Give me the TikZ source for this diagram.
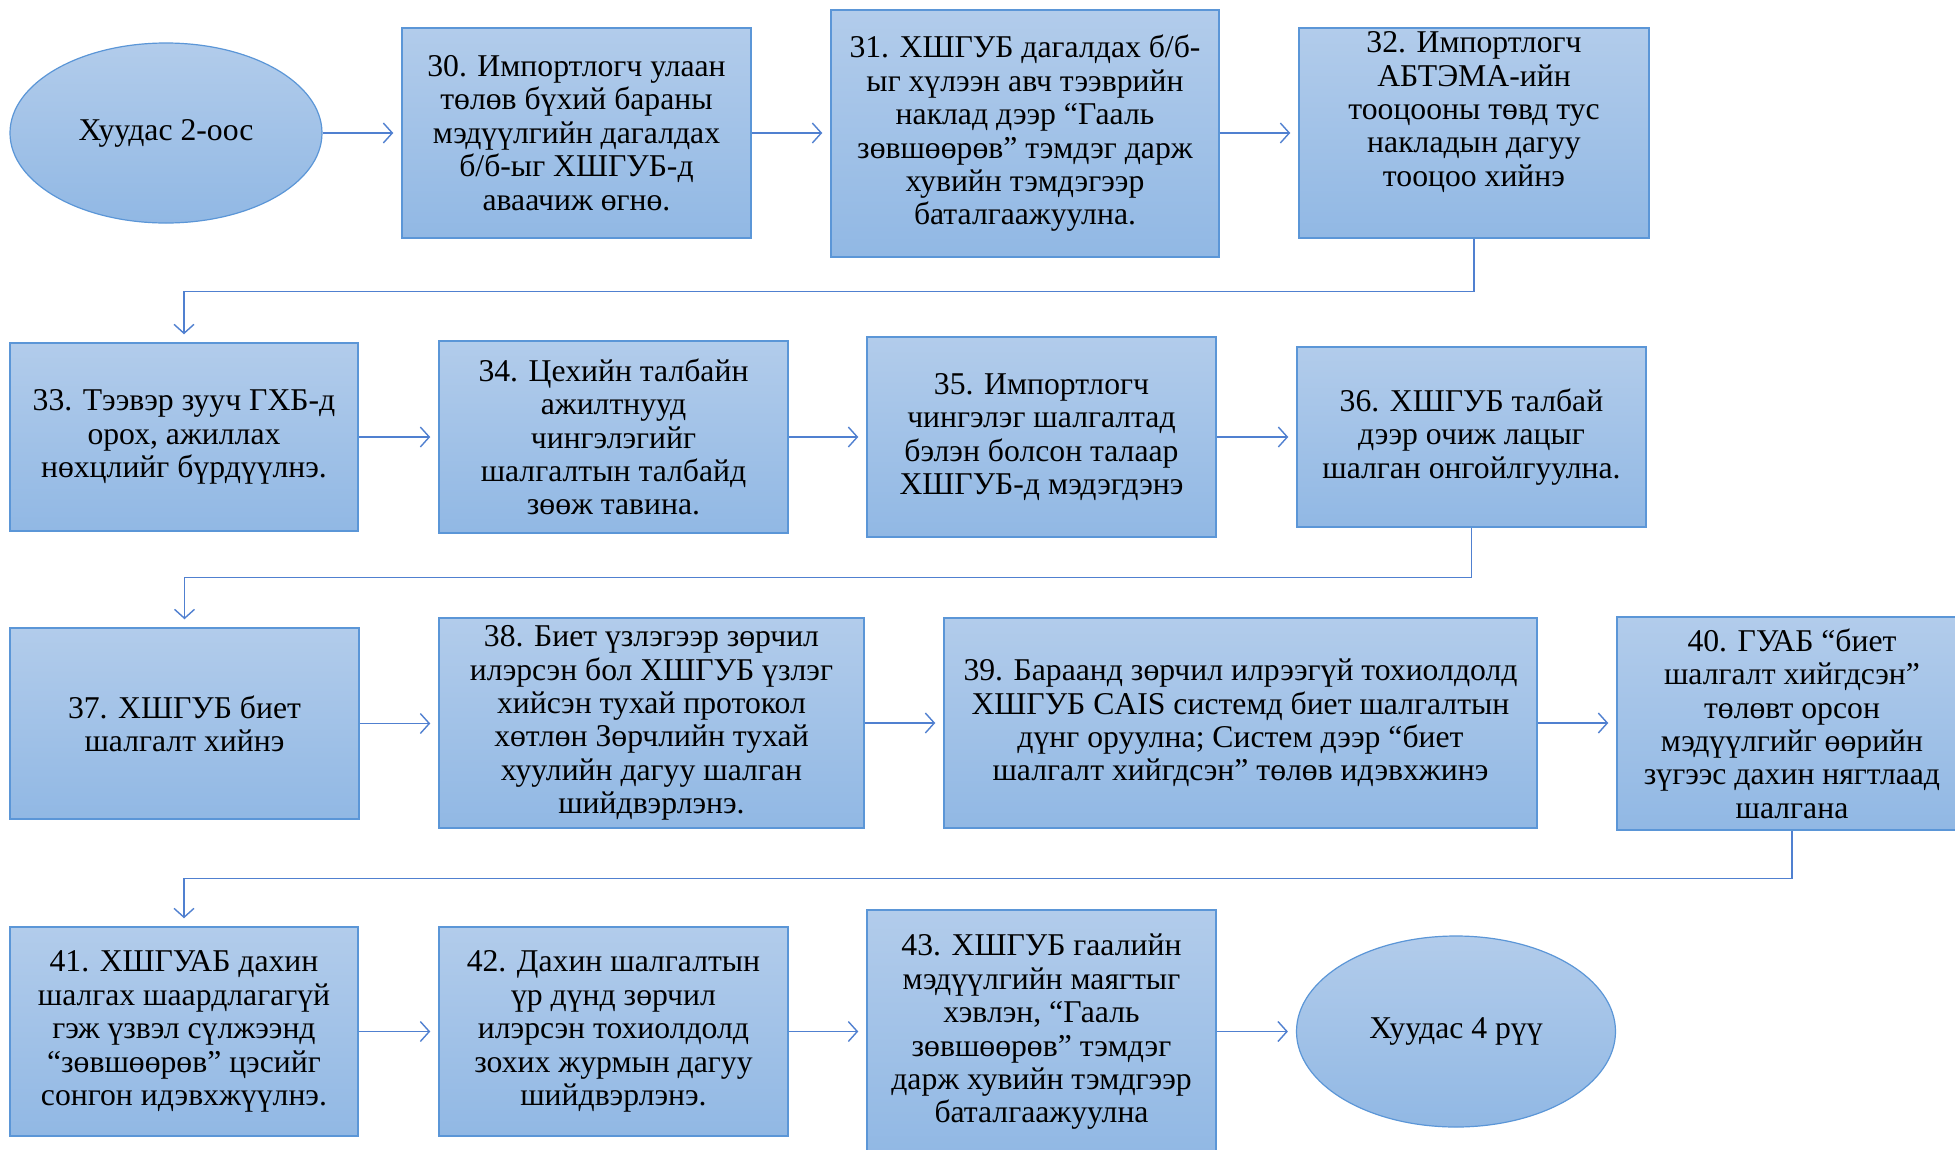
\documentclass[tikz,border=0pt]{standalone}
\usepackage{fontspec}
\setmainfont{Liberation Serif}
\newfontfamily\tnr{Liberation Serif}
\usetikzlibrary{arrows.meta,shapes.geometric,calc}
\definecolor{boxtop}{RGB}{178,204,235}
\definecolor{boxbot}{RGB}{145,184,228}
\definecolor{boxline}{RGB}{91,150,215}
\definecolor{conn}{RGB}{80,128,208}
\tikzset{
  stepbox/.style={rectangle, draw=boxline, line width=1.5pt, top color=boxtop, bottom color=boxbot,
    inner sep=0pt, align=center, font=\tnr\fontsize{31.7}{33.4}\selectfont},
  endell/.style={ellipse, draw=boxline, line width=1.2pt, top color=boxtop, bottom color=boxbot,
    inner sep=0pt, align=center, font=\tnr\fontsize{31.7}{33.4}\selectfont},
  txt/.style={inner sep=0pt, align=center, font=\tnr\fontsize{31.7}{33.4}\selectfont},
  arr/.style={draw=conn, line width=1.4pt, shorten >=8pt, -{Straight Barb[length=9pt,width=20pt,line width=1.4pt]}},
}
\begin{document}
\begin{tikzpicture}[x=1pt,y=-1pt]
\useasboundingbox (0,0) rectangle (1955,1149);
\clip (0,0) rectangle (1955,1149);
\fill[white] (0,0) rectangle (1955,1149);
% row 1
\node[endell, minimum width=312pt, minimum height=180pt] (e1) at (166,133) {Хуудас 2-оос};
\node[stepbox, minimum width=349pt, minimum height=210pt] (b30) at (576.5,133) {30. Импортлогч улаан\\төлөв бүхий бараны\\мэдүүлгийн дагалдах\\б/б-ыг ХШГУБ-д\\аваачиж өгнө.};
\node[stepbox, minimum width=388pt, minimum height=247pt] (b31) at (1025,133.5) {31. ХШГУБ дагалдах б/б-\\ыг хүлээн авч тээврийн\\наклад дээр “Гааль\\зөвшөөрөв” тэмдэг дарж\\хувийн тэмдэгээр\\баталгаажуулна.};
\node[stepbox, minimum width=350pt, minimum height=210pt] (b32) at (1474,133) {};
\node[txt] (b32t) at (1474,112) {32. Импортлогч\\АБТЭМА-ийн\\тооцооны төвд тус\\накладын дагуу\\тооцоо хийнэ};
% row 2
\node[stepbox, minimum width=348pt, minimum height=188pt] (b33) at (184,437) {33. Тээвэр зууч ГХБ-д\\орох, ажиллах\\нөхцлийг бүрдүүлнэ.};
\node[stepbox, minimum width=349pt, minimum height=192pt] (b34) at (613.5,437) {34. Цехийн талбайн\\ажилтнууд\\чингэлэгийг\\шалгалтын талбайд\\зөөж тавина.};
\node[stepbox, minimum width=349pt, minimum height=200pt] (b35) at (1041.5,437) {35. Импортлогч\\чингэлэг шалгалтад\\бэлэн болсон талаар\\ХШГУБ-д мэдэгдэнэ};
\node[stepbox, minimum width=349pt, minimum height=180pt] (b36) at (1471.5,437) {36. ХШГУБ талбай\\дээр очиж лацыг\\шалган онгойлгуулна.};
% row 3
\node[stepbox, minimum width=349pt, minimum height=191pt] (b37) at (184.5,723.5) {37. ХШГУБ биет\\шалгалт хийнэ};
\node[stepbox, minimum width=425pt, minimum height=210pt] (b38) at (651.5,723) {38. Биет үзлэгээр зөрчил\\илэрсэн бол ХШГУБ үзлэг\\хийсэн тухай протокол\\хөтлөн Зөрчлийн тухай\\хуулийн дагуу шалган\\шийдвэрлэнэ.};
\node[stepbox, minimum width=593pt, minimum height=210pt] (b39) at (1240.5,723) {39. Бараанд зөрчил илрээгүй тохиолдолд\\ХШГУБ CAIS системд биет шалгалтын\\дүнг оруулна; Систем дээр “биет\\шалгалт хийгдсэн” төлөв идэвхжинэ};
\node[stepbox, minimum width=350pt, minimum height=213pt] (b40) at (1792,723.5) {40. ГУАБ “биет\\шалгалт хийгдсэн”\\төлөвт орсон\\мэдүүлгийг өөрийн\\зүгээс дахин нягтлаад\\шалгана};
% row 4
\node[stepbox, minimum width=348pt, minimum height=209pt] (b41) at (184,1031.5) {41. ХШГУАБ дахин\\шалгах шаардлагагүй\\гэж үзвэл сүлжээнд\\“зөвшөөрөв” цэсийг\\сонгон идэвхжүүлнэ.};
\node[stepbox, minimum width=349pt, minimum height=209pt] (b42) at (613.5,1031.5) {42. Дахин шалгалтын\\үр дүнд зөрчил\\илэрсэн тохиолдолд\\зохих журмын дагуу\\шийдвэрлэнэ.};
\node[stepbox, minimum width=349pt, minimum height=244pt] (b43) at (1041.5,1032) {43. ХШГУБ гаалийн\\мэдүүлгийн маягтыг\\хэвлэн, “Гааль\\зөвшөөрөв” тэмдэг\\дарж хувийн тэмдгээр\\баталгаажуулна};
\node[endell, minimum width=319pt, minimum height=191pt] (e2) at (1456,1031.5) {Хуудас 4 рүү};
% connectors
\draw[arr] (e1.east) -- (e1.east -| b30.west);
\draw[arr] (b30.east) -- (b30.east -| b31.west);
\draw[arr] (b31.east |- b30.east) -- (b30.east -| b32.west);
\draw[arr] (b32.south) -- ++(0,53) -| (b33.north);
\draw[arr] (b33.east) -- (b33.east -| b34.west);
\draw[arr] (b34.east) -- (b34.east -| b35.west);
\draw[arr] (b35.east) -- (b35.east -| b36.west);
\draw[arr] (b36.south) -- ++(0,50) -| (b37.north);
\draw[arr] (b37.east) -- (b37.east -| b38.west);
\draw[arr] (b38.east) -- (b38.east -| b39.west);
\draw[arr] (b39.east) -- (b39.east -| b40.west);
\draw[arr] (b40.south) -- ++(0,48) -| (b41.north);
\draw[arr] (b41.east) -- (b41.east -| b42.west);
\draw[arr] (b42.east) -- (b42.east -| b43.west);
\draw[arr] (b43.east |- e2.west) -- (e2.west);
\end{tikzpicture}
\end{document}
